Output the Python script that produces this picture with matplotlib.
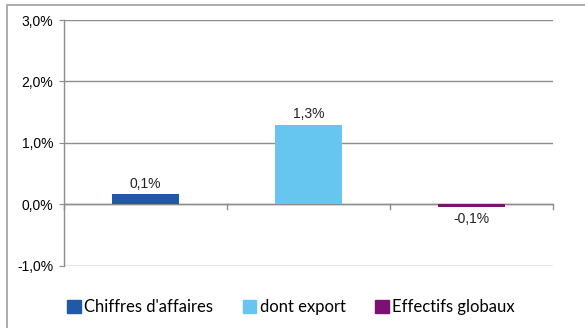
import matplotlib
matplotlib.use('Agg')
import matplotlib.pyplot as plt
from matplotlib.patches import Rectangle

# data
categories = ["Chiffres d'affaires", 'dont export', 'Effectifs globaux']
values = [0.0016, 0.0129, -0.0005]
value_labels = ['0,1%', '1,3%', '-0,1%']
colors = ['#1f5aa6', '#66c6f0', '#7a1173']
yticks = [-0.01, 0.0, 0.01, 0.02, 0.03]
ytick_labels = ['-1,0%', '0,0%', '1,0%', '2,0%', '3,0%']

plt.rcParams['font.family'] = ['Liberation Sans', 'DejaVu Sans']
grey = '#8c8c8c'

fig = plt.figure(figsize=(5.85, 3.28), dpi=100)
ax = fig.add_axes([64 / 585, 1 - 265.7 / 328, (553 - 64) / 585, (265.7 - 20) / 328])

x = list(range(len(categories)))
bars = ax.bar(x, values, width=0.405, color=colors, zorder=3)
for i, (v, lab) in enumerate(zip(values, value_labels)):
    if v >= 0:
        ax.text(i, v + 0.0006, lab, ha='center', va='bottom', fontsize=10, color='#222222')
    else:
        ax.text(i, v - 0.0008, lab, ha='center', va='top', fontsize=10, color='#222222')

ax.set_xlim(-0.5, 2.5)
ax.set_ylim(-0.01, 0.03)
ax.set_yticks(yticks)
ax.set_yticklabels(ytick_labels, fontsize=10)
ax.yaxis.grid(True, color=grey, linewidth=1, zorder=0)
ax.tick_params(axis='y', length=3.6, color=grey, pad=4)
ax.set_xticks([])

for s in ['top', 'right', 'bottom']:
    ax.spines[s].set_visible(False)
ax.spines['left'].set_color(grey)
ax.spines['left'].set_linewidth(1)

# zero axis with category ticks
ax.axhline(0, color=grey, linewidth=1, zorder=2)
for b in [-0.5, 0.5, 1.5, 2.5]:
    ax.plot([b, b], [0, -0.0007], color=grey, linewidth=1, zorder=2, clip_on=False)

# legend
handles = [Rectangle((0, 0), 1, 1, color=c) for c in colors]
fig.legend(handles, categories, loc='center', bbox_to_anchor=(291 / 585, 1 - 307 / 328),
           ncol=3, frameon=False, prop={'family': 'Lato', 'size': 12},
           handlelength=0.8, handleheight=0.8, handletextpad=0.2, columnspacing=1.8)

# outer frame
fig.patches.append(Rectangle((7 / 585, -0.1), 1.1, 1 - 5 / 328 + 0.1, transform=fig.transFigure,
                             fill=False, edgecolor='#a0a0a0', linewidth=1.2))

fig.savefig('out.png', dpi=100)
